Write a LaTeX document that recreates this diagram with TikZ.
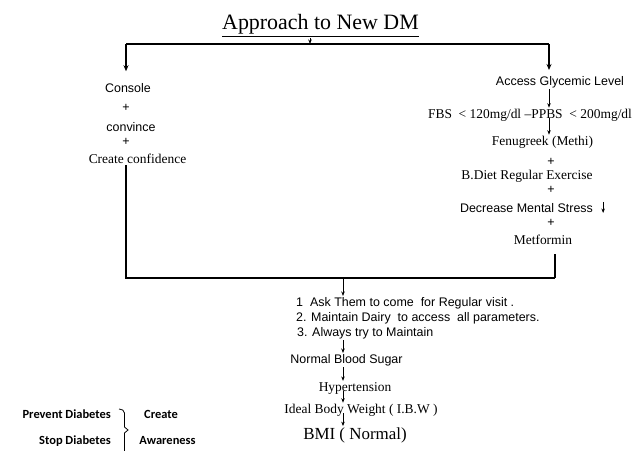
\documentclass[tikz,border=0pt]{standalone}
\usepackage{fontspec}
\setmainfont{Liberation Serif}
\setsansfont{Liberation Sans}
\newfontfamily\calfont{Carlito}
\usetikzlibrary{arrows.meta}

\begin{document}
\begin{tikzpicture}[x=1bp,y=-1bp,
	sans/.style={inner sep=1bp,font=\sffamily\fontsize{12.5}{14}\selectfont},
	serif/.style={inner sep=1bp,font=\fontsize{13.5}{15}\selectfont},
	bold/.style={inner sep=1bp,font=\calfont\bfseries\fontsize{12.5}{14}\selectfont},
	bus/.style={line width=1.6bp},
	bustip/.style={bus,-{Stealth[length=6bp,width=5bp]}},
	tip/.style={line width=0.7bp,-{Stealth[length=4.5bp,width=3.5bp]}}]
	\useasboundingbox (0,0) rectangle (637,451);
	\node[anchor=base,inner sep=1bp] (title) at (320.5,30) {\fontsize{22}{24}\selectfont\underline{Approach to New DM}};
	\coordinate (busL) at (126,44);
	\coordinate (busM) at (310,44);
	\coordinate (busR) at (549,44);
	\coordinate (lowL) at (126,278);
	\coordinate (lowM) at (343,278);
	\coordinate (lowR) at (555,278);
	% left branch
	\node[sans] (console) at (128,88) {Console};
	\node[sans] (plus1) at (126,108) {+};
	\node[sans] (convince) at (131,127) {convince};
	\node[sans] (plus2) at (126,142) {+};
	\node[serif] (confidence) at (137.5,159) {Create confidence};
	% right branch
	\node[sans] (access) at (560,82) {Access Glycemic Level};
	\node[serif] (fbs) at (530,115) {FBS\ \ < 120mg/dl --PPBS\ \ < 200mg/dl};
	\node[serif] (fenu) at (542.5,142) {Fenugreek (Methi)};
	\node[sans] (plus3) at (551,162) {+};
	\node[serif] (bdiet) at (527,176) {B.Diet Regular Exercise};
	\node[sans] (plus4) at (551,190) {+};
	\node[sans] (stress) at (526.5,208) {Decrease Mental Stress};
	\node[sans] (plus5) at (551,223) {+};
	\node[serif] (metformin) at (543,240) {Metformin};
	% follow up
	\node[sans,anchor=west] (item1) at (295,303) {1\ \ Ask Them to come\ \ for Regular visit .};
	\node[sans,anchor=west] (item2) at (295,318) {2. Maintain Dairy\ \ to access\ \ all parameters.};
	\node[sans,anchor=west] (item3) at (296,333) {3. Always try to Maintain};
	\node[sans] (sugar) at (346.5,360) {Normal Blood Sugar};
	\node[serif] (hyper) at (355,388) {Hypertension};
	\node[serif] (ideal) at (361,410) {Ideal Body Weight ( I.B.W )};
	\node[serif,font=\fontsize{17}{19}\selectfont] (bmi) at (355,435) {BMI ( Normal)};
	\node[bold,anchor=east] (prevent) at (112,414) {Prevent Diabetes};
	\node[bold,anchor=east] (stop) at (112,441) {Stop Diabetes};
	\node[bold] (create) at (161,414) {Create};
	\node[bold] (awareness) at (167.5,441) {Awareness};

	\draw[tip] (title.south -| busM) -- (busM);
	\draw[bus] (busL) -- (busR);
	\draw[bustip,shorten >=11bp] (busL) -- (busL |- console.north);
	\draw[bustip,shorten >=5bp] (busR) -- (busR |- access.north);
	\draw[tip] (access.south -| busR) -- (fbs.north -| busR);
	\draw[tip] (fbs.base -| busR) -- (fenu.north -| busR);
	\draw[tip] (stress.east) ++(9,-6) -- ++(0,11);
	\draw[bus] (confidence.south -| lowL) -- (lowL) -- (lowR);
	\draw[bus,shorten >=8bp] (lowR) -- (metformin.south -| lowR);
	\draw[tip] (lowM) -- (item1.north -| lowM);
	\draw[tip] (item3.south -| lowM) -- (sugar.north -| lowM);
	\draw[tip] (sugar.south -| lowM) -- (hyper.north -| lowM);
	\draw[tip] (hyper.base -| lowM) -- (ideal.north -| lowM);
	\draw[tip] (ideal.base -| lowM) -- (bmi.north -| lowM);
	\draw[line width=0.8bp] (119,409) to[out=0,in=90] (124.5,413) -- (124.5,427) -- (128,430) -- (124.5,433) -- (124.5,451);
\end{tikzpicture}
\end{document}
